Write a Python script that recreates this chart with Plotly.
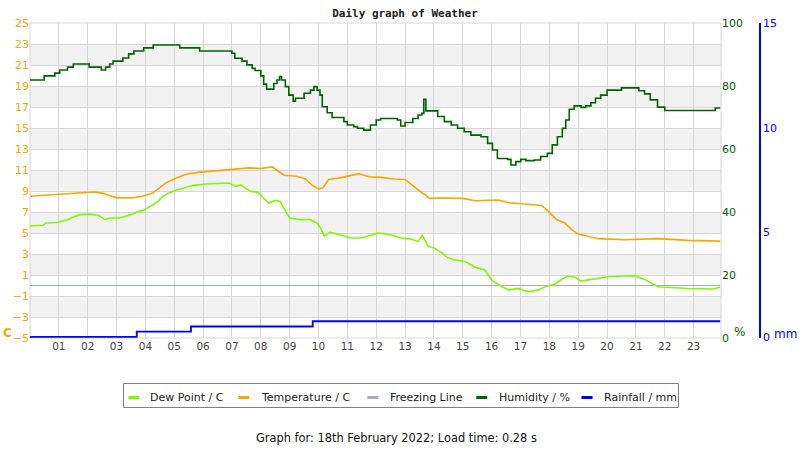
import plotly.graph_objects as go

# ---------------- data (hours of the day) ----------------
temp_hours = [0.0, 0.5, 1.0, 1.7, 2.2, 2.5, 2.75, 3.0, 3.6, 3.9, 4.25, 4.5, 4.7, 5.0, 5.4, 5.9,
              6.5, 7.05, 7.6, 8.0, 8.4, 8.55, 8.8, 9.25, 9.55, 9.8, 10.0, 10.15, 10.35, 10.75,
              11.1, 11.4, 11.75, 12.15, 12.6, 13.0, 13.3, 13.6, 13.85, 14.25, 15.0, 15.43,
              16.23, 16.6, 17.27, 17.73, 17.96, 18.25, 18.54, 18.77, 19.0, 19.35, 19.7, 20.6,
              21.77, 22.8, 23.92]
temp_vals = [8.5, 8.6, 8.65, 8.8, 8.9, 8.8, 8.55, 8.35, 8.37, 8.5, 8.8, 9.3, 9.75, 10.15, 10.6,
             10.8, 10.95, 11.1, 11.2, 11.15, 11.3, 11.0, 10.5, 10.4, 10.15, 9.5, 9.2, 9.3, 10.1,
             10.25, 10.5, 10.65, 10.35, 10.3, 10.15, 10.1, 9.45, 8.8, 8.3, 8.33, 8.3, 8.07,
             8.14, 7.88, 7.72, 7.62, 7.08, 6.28, 5.96, 5.32, 4.9, 4.68, 4.46, 4.36, 4.46, 4.3,
             4.23]

dew_hours = [0.0, 0.45, 0.55, 0.95, 1.3, 1.5, 1.75, 2.1, 2.4, 2.6, 2.75, 3.1, 3.5, 3.7, 3.9,
             4.15, 4.4, 4.6, 4.85, 5.2, 5.65, 6.1, 6.6, 6.9, 7.15, 7.3, 7.63, 7.9, 8.1, 8.27,
             8.5, 8.67, 8.9, 9.0, 9.37, 9.72, 9.95, 10.07, 10.2, 10.4, 10.75, 11.1, 11.45,
             11.7, 12.05, 12.5, 12.85, 13.2, 13.45, 13.6, 13.8, 14.0, 14.27, 14.45, 14.7,
             15.08, 15.43, 15.77, 16.0, 16.23, 16.6, 16.9, 17.27, 17.6, 17.85, 18.2, 18.4,
             18.64, 18.9, 19.1, 19.46, 20.04, 20.6, 20.96, 21.3, 21.77, 22.8, 23.7, 23.92]
dew_vals = [5.67, 5.73, 5.95, 6.0, 6.27, 6.52, 6.75, 6.8, 6.65, 6.27, 6.43, 6.43, 6.75, 7.0,
            7.13, 7.54, 7.92, 8.49, 8.87, 9.19, 9.54, 9.67, 9.76, 9.76, 9.44, 9.6, 8.97, 8.87,
            8.33, 7.86, 8.1, 8.0, 6.9, 6.43, 6.27, 6.27, 5.95, 5.48, 4.7, 5.06, 4.84, 4.52,
            4.52, 4.68, 5.0, 4.84, 4.52, 4.43, 4.2, 4.78, 3.73, 3.57, 3.14, 2.7, 2.44, 2.28,
            1.74, 1.48, 0.52, 0.1, -0.44, -0.28, -0.6, -0.44, -0.12, 0.14, 0.52, 0.9, 0.78,
            0.42, 0.58, 0.84, 0.9, 0.94, 0.58, -0.12, -0.28, -0.34, -0.15]

hum_hours = [0.0, 0.49, 0.86, 1.03, 1.3, 1.5, 2.05, 2.47, 2.62, 2.76, 2.88, 3.22, 3.42, 3.6,
             3.94, 4.27, 5.19, 5.88, 7.0, 7.1, 7.35, 7.52, 7.7, 7.8, 8.0, 8.1, 8.2, 8.45, 8.56,
             8.65, 8.72, 8.85, 8.97, 9.12, 9.2, 9.5, 9.72, 9.84, 9.95, 10.05, 10.13, 10.3,
             10.47, 10.88, 11.0, 11.22, 11.35, 11.57, 11.8, 12.0, 12.15, 12.73, 12.85, 13.0,
             13.27, 13.45, 13.58, 13.65, 13.72, 14.13, 14.36, 14.6, 14.82, 15.05, 15.28,
             15.63, 15.86, 16.03, 16.2, 16.55, 16.67, 16.84, 17.01, 17.19, 17.48, 17.7, 17.93,
             18.1, 18.28, 18.45, 18.57, 18.69, 18.86, 19.1, 19.26, 19.44, 19.6, 19.78, 20.0,
             20.5, 21.1, 21.3, 21.5, 21.75, 22.0, 23.75, 23.92]
hum_vals = [81.9, 83.2, 84.1, 85.1, 86.0, 87.0, 86.0, 85.1, 86.0, 87.0, 87.9, 88.9, 90.2, 91.1,
            92.1, 93.0, 92.1, 91.1, 90.4, 88.8, 87.9, 86.7, 85.6, 84.9, 83.2, 80.6, 79.0,
            80.8, 81.9, 83.0, 81.9, 79.8, 77.1, 75.2, 76.1, 77.7, 78.7, 79.8, 78.7, 77.1,
            73.4, 71.5, 70.0, 68.7, 67.6, 67.1, 66.6, 66.0, 67.6, 69.2, 69.7, 69.2, 67.3,
            68.4, 69.7, 70.8, 71.3, 75.8, 72.1, 70.3, 68.7, 67.6, 66.6, 65.5, 64.4, 63.9,
            61.8, 59.7, 57.0, 56.7, 54.9, 56.0, 56.7, 56.3, 56.5, 57.6, 58.6, 61.3, 63.9,
            66.6, 69.2, 72.6, 73.7, 73.2, 73.7, 74.7, 76.1, 77.1, 78.7, 79.4, 78.5, 77.5,
            75.6, 73.3, 72.2, 73.0, 73.0]

rain_hours = [0.0, 3.7, 5.58, 9.8, 23.92]
rain_vals = [0.0, 0.25, 0.5, 0.75, 0.75]

freeze_hours = [0.0, 23.92]
freeze_vals = [0, 0]

hour_ticks = list(range(1, 24))
hour_labels = [f"{h:02d}" for h in hour_ticks]
temp_ticks = list(range(-5, 26, 2))
hum_ticks = [0, 20, 40, 60, 80, 100]
rain_ticks = [0, 5, 10, 15]

legend_names = ["Dew Point / C", "Temperature / C", "Freezing Line", "Humidity / %",
                "Rainfall / mm"]

# ---------------- styling ----------------
C_DEW = "#7CFC00"
C_TEMP = "#FFA500"
C_FREEZE = "#A0B0C8"
C_HUM = "#006400"
C_RAIN = "#0000FF"
legend_colors = [C_DEW, C_TEMP, C_FREEZE, C_HUM, C_RAIN]
FONT = "DejaVu Sans"
GRID = "#d6d6d6"
BAND = "#f2f2f2"

# layout in pixels
L, R, T, B = 30, 20, 23, 112
W, H = 800, 450
PW = W - L - R
PH = H - T - B
plot_right = 721
xdom = (plot_right - L) / PW


def px_x(p):
    return (p - L) / PW


def px_y(p):
    return (H - B - p) / PH


fig = go.Figure()

fig.add_trace(go.Scatter(x=freeze_hours, y=freeze_vals, mode="lines", name="Freezing Line",
                         line=dict(color=C_FREEZE, width=1.2), hoverinfo="skip"))
fig.add_trace(go.Scatter(x=temp_hours, y=temp_vals, mode="lines", name="Temperature / C",
                         line=dict(color=C_TEMP, width=1.6)))
fig.add_trace(go.Scatter(x=dew_hours, y=dew_vals, mode="lines", name="Dew Point / C",
                         line=dict(color=C_DEW, width=1.6)))
fig.add_trace(go.Scatter(x=hum_hours, y=hum_vals, mode="lines", yaxis="y2", name="Humidity / %",
                         line=dict(color=C_HUM, width=1.6, shape="hv")))
fig.add_trace(go.Scatter(x=rain_hours, y=rain_vals, mode="lines", yaxis="y3",
                         name="Rainfall / mm", line=dict(color=C_RAIN, width=1.8, shape="hv")))

# alternating bands + plot border
shapes = []
for lo in [21, 17, 13, 9, 5, 1, -3]:
    shapes.append(dict(type="rect", xref="x domain", yref="y", x0=0, x1=1, y0=lo, y1=lo + 2,
                       fillcolor=BAND, line=dict(width=0), layer="below"))
shapes.append(dict(type="rect", xref="x domain", yref="y domain", x0=0, x1=1, y0=0, y1=1,
                   line=dict(color=GRID, width=1), fillcolor="rgba(0,0,0,0)", layer="below"))

# hand-built legend (box, line samples, labels)
leg_y = 397
sym_centers = [133.8, 243.8, 372.8, 481.8, 587.0]
text_starts = [148.3, 258.7, 387.7, 496.6, 601.8]
shapes.append(dict(type="rect", xref="paper", yref="paper", x0=px_x(123.5), x1=px_x(678.5),
                   y0=px_y(383.5), y1=px_y(407.5), line=dict(color="#808080", width=1),
                   fillcolor="white", layer="above"))
annotations = []
for name, col, cx, tx in zip(legend_names, legend_colors, sym_centers, text_starts):
    shapes.append(dict(type="line", xref="paper", yref="paper", x0=px_x(cx - 5.5),
                       x1=px_x(cx + 5.5), y0=px_y(leg_y + 0.5), y1=px_y(leg_y + 0.5),
                       line=dict(color=col, width=3), layer="above"))
    annotations.append(dict(text=name, xref="paper", yref="paper", x=px_x(tx), y=px_y(leg_y),
                            xanchor="left", yanchor="middle", showarrow=False,
                            font=dict(size=11, color="#222")))

annotations += [
    dict(text="<b>C</b>", xref="paper", yref="paper", x=px_x(7), y=px_y(333),
         xanchor="center", yanchor="middle", showarrow=False, font=dict(size=12, color=C_TEMP)),
    dict(text="%", xref="paper", yref="paper", x=px_x(739), y=px_y(332),
         xanchor="center", yanchor="middle", showarrow=False, font=dict(size=12, color=C_HUM)),
    dict(text="mm", xref="paper", yref="paper", x=px_x(785), y=px_y(334),
         xanchor="center", yanchor="middle", showarrow=False, font=dict(size=12, color=C_RAIN)),
    dict(text="Graph for: 18th February 2022; Load time: 0.28 s", xref="paper",
         yref="paper", x=px_x(396), y=px_y(438), xanchor="center", yanchor="middle",
         showarrow=False, font=dict(size=11.4, color="#111")),
]

fig.update_layout(
    width=W, height=H,
    margin=dict(l=L, r=R, t=T, b=B),
    paper_bgcolor="white", plot_bgcolor="white",
    font=dict(family=FONT, size=11, color="#222"),
    title=dict(text="Daily graph of Weather", x=0.5, xanchor="center", xref="paper",
               y=1 - 13 / H, yanchor="middle", yref="container",
               font=dict(family="DejaVu Sans Mono", size=11, color="#222", weight="bold")),
    xaxis=dict(domain=[0, xdom], range=[0, 23.95], tickvals=hour_ticks, ticktext=hour_labels,
               showgrid=True, gridcolor=GRID, gridwidth=1, zeroline=False, showline=False,
               ticks="", tickfont=dict(size=10.5, color="#444")),
    yaxis=dict(range=[-5, 25], tickvals=temp_ticks, showgrid=True, gridcolor=GRID,
               zeroline=False, ticks="", tickfont=dict(size=11, color=C_TEMP)),
    yaxis2=dict(range=[0, 100], tickvals=hum_ticks, overlaying="y", side="right", anchor="x",
                showgrid=False, zeroline=False, ticks="",
                tickfont=dict(size=11, color=C_HUM)),
    yaxis3=dict(range=[-0.05, 15], tickvals=rain_ticks, overlaying="y", side="right",
                anchor="free", position=px_x(760), showgrid=False, zeroline=False,
                showline=True, linecolor=C_RAIN, linewidth=1.5, ticks="",
                tickfont=dict(size=11, color=C_RAIN)),
    shapes=shapes,
    annotations=annotations,
    showlegend=False,
)

fig.write_html("out.html")
